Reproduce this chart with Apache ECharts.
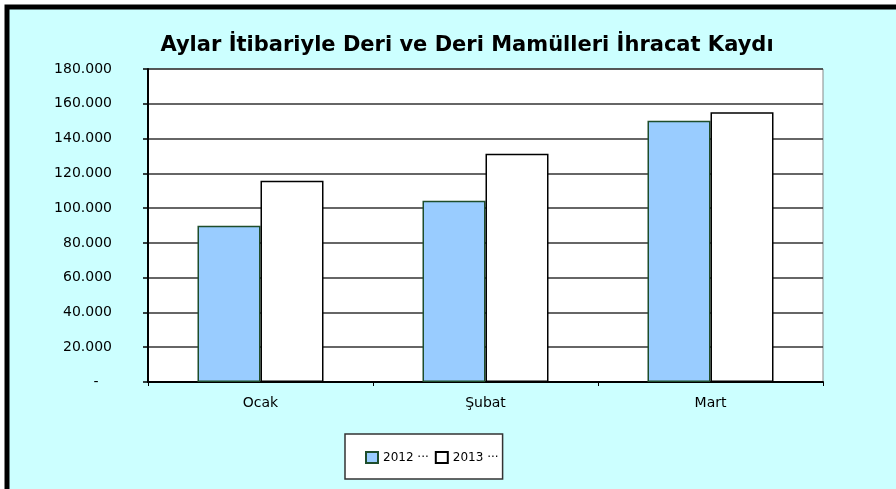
<!DOCTYPE html>
<html>
<head>
<meta charset="utf-8">
<script src="https://cdn.jsdelivr.net/npm/echarts@6/dist/echarts.min.js"></script>
<style>
  html, body { margin: 0; padding: 0; background: #fff; }
  #chart { width: 896px; height: 489px; }
</style>
</head>
<body>
<div id="chart"></div>
<script>
// aylar
var categories = ['Ocak', 'Şubat', 'Mart']
// seriler
var seriesNames = ['2012', '2013']
var values2012 = [89800, 104200, 150200]
var values2013 = [115700, 131200, 155100]
// y ekseni
var yMin = 0
var yMax = 180000
var yStep = 20000

var fontName = 'DejaVu Sans'

function fmtThousands (v) {
  if (v === 0) return '-   '
  return String(v).replace(/\B(?=(\d{3})+(?!\d))/g, '.')
}

var chart = echarts.init(document.getElementById('chart'))
var option = {
  backgroundColor: '#fff',
  animation: false,
  // dış çerçeve
  graphic: [{
    type: 'rect',
    z: -10,
    shape: { x: 7, y: 7, width: 1200, height: 1200 },
    style: { fill: '#CCFFFF', stroke: '#000', lineWidth: 5 }
  }],
  title: {
    text: 'Aylar İtibariyle Deri ve Deri Mamülleri İhracat Kaydı',
    left: 462,
    textAlign: 'center',
    top: 30,
    textStyle: {
      fontFamily: fontName,
      fontSize: 21,
      fontWeight: 'bold',
      color: '#000'
    }
  },
  legend: {
    left: 345,
    top: 434,
    width: 158,
    backgroundColor: '#fff',
    borderColor: '#333',
    borderWidth: 1.5,
    borderRadius: 0,
    padding: [17, 4, 15, 20],
    icon: 'rect',
    itemWidth: 12,
    itemHeight: 11,
    itemGap: 6,
    formatter: function (name) { return name + ' ···' },
    textStyle: {
      fontFamily: fontName,
      fontSize: 12,
      color: '#000',
      padding: [6, 0, 0, 0]
    },
    data: seriesNames
  },
  grid: {
    left: 148,
    right: 73,
    top: 69,
    bottom: 107,
    show: true,
    backgroundColor: '#fff',
    borderColor: '#888',
    borderWidth: 1
  },
  xAxis: {
    type: 'category',
    data: categories,
    axisLine: { lineStyle: { color: '#000', width: 2 } },
    axisTick: { show: true, alignWithLabel: false, length: 4, lineStyle: { color: '#000' } },
    axisLabel: {
      margin: 14,
      fontFamily: fontName,
      fontSize: 14,
      color: '#000'
    }
  },
  yAxis: {
    type: 'value',
    min: yMin,
    max: yMax,
    interval: yStep,
    axisLine: { show: true, lineStyle: { color: '#000', width: 2 } },
    axisTick: { show: true, length: 5, lineStyle: { color: '#000', width: 1.5 } },
    splitLine: { lineStyle: { color: '#333', width: 1.5 } },
    axisLabel: {
      margin: 36,
      fontFamily: fontName,
      fontSize: 14,
      color: '#000',
      formatter: fmtThousands
    }
  },
  series: [{
    type: 'bar',
    name: seriesNames[0],
    data: values2012,
    barGap: '0%',
    barCategoryGap: '44%',
    itemStyle: {
      color: '#99CCFF',
      borderColor: '#1E4D2B',
      borderWidth: 1.5
    }
  }, {
    type: 'bar',
    name: seriesNames[1],
    data: values2013,
    barGap: '0%',
    barCategoryGap: '44%',
    itemStyle: {
      color: '#FFFFFF',
      borderColor: '#000',
      borderWidth: 1.5
    }
  }]
}
chart.setOption(option)
</script>
</body>
</html>
